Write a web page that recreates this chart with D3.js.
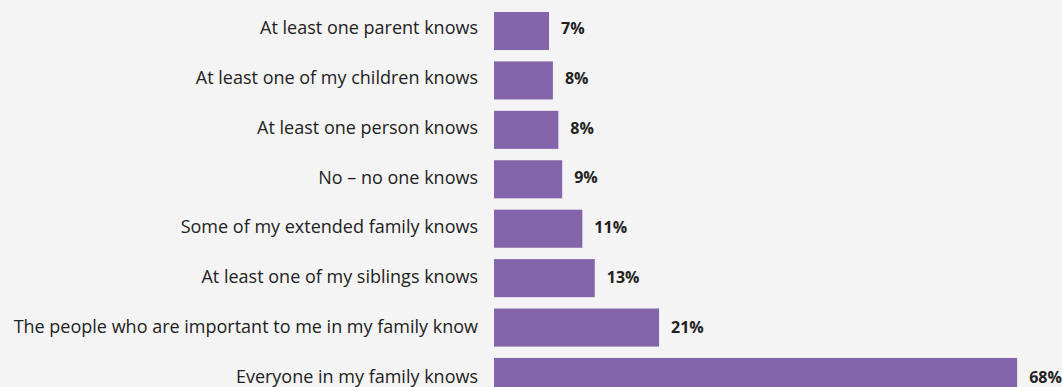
<!DOCTYPE html>
<html>
<head>
<meta charset="utf-8">
<script src="https://cdn.jsdelivr.net/npm/d3@7"></script>
<style>
  html, body { margin: 0; padding: 0; background: #f4f4f4; }
  svg { display: block; }
</style>
</head>
<body>
<svg id="chart" width="1062" height="387"></svg>
<script>
// Who in the family knows — share of respondents
const categories = [
  "At least one parent knows",
  "At least one of my children knows",
  "At least one person knows",
  "No \u2013 no one knows",
  "Some of my extended family knows",
  "At least one of my siblings knows",
  "The people who are important to me in my family know",
  "Everyone in my family knows"
];
const values = [7.1, 7.6, 8.3, 8.8, 11.4, 13.0, 21.3, 67.5];

const W = 1062, H = 387;
const barX0 = 494;
const barColor = "#8464ab";
const textColor = "#222222";
const fontFamily = "'Open Sans', sans-serif";

const svg = d3.select("#chart");
svg.append("rect").attr("width", W).attr("height", H).attr("fill", "#f4f4f4");

const x = d3.scaleLinear().domain([0, 100]).range([barX0, barX0 + 775]);

// bar rows
const y = d3.scaleBand()
  .domain(categories)
  .range([6.3, 401.7])
  .paddingInner(0.23)
  .paddingOuter(0.115);

// text rows run on a slightly wider pitch than the bars
const yText = d3.scaleBand()
  .domain(categories)
  .range([6.0, 404.2])
  .paddingInner(0.23)
  .paddingOuter(0.115);

const rows = categories.map((c, i) => ({ c, v: values[i] }));

// category axis on the left, no line or ticks
const yAxis = d3.axisLeft(yText).tickSize(0).tickPadding(16);
const gy = svg.append("g").attr("transform", `translate(${barX0},0)`).call(yAxis);
gy.select(".domain").remove();
gy.selectAll("text")
  .attr("fill", textColor)
  .attr("dy", "0.19em")
  .style("font-family", fontFamily)
  .style("font-size", "18px");

svg.append("g").selectAll("rect")
  .data(rows)
  .join("rect")
  .attr("x", x(0))
  .attr("y", d => y(d.c))
  .attr("width", d => x(d.v) - x(0))
  .attr("height", y.bandwidth())
  .attr("fill", barColor);

svg.append("g").selectAll("text")
  .data(rows)
  .join("text")
  .attr("x", d => x(d.v) + 12)
  .attr("y", d => yText(d.c) + yText.bandwidth() / 2)
  .attr("dy", "0.2em")
  .attr("fill", textColor)
  .style("font-family", fontFamily)
  .style("font-size", "16px")
  .style("font-weight", "700")
  .text(d => d3.format(".0f")(d.v) + "%");
</script>
</body>
</html>
